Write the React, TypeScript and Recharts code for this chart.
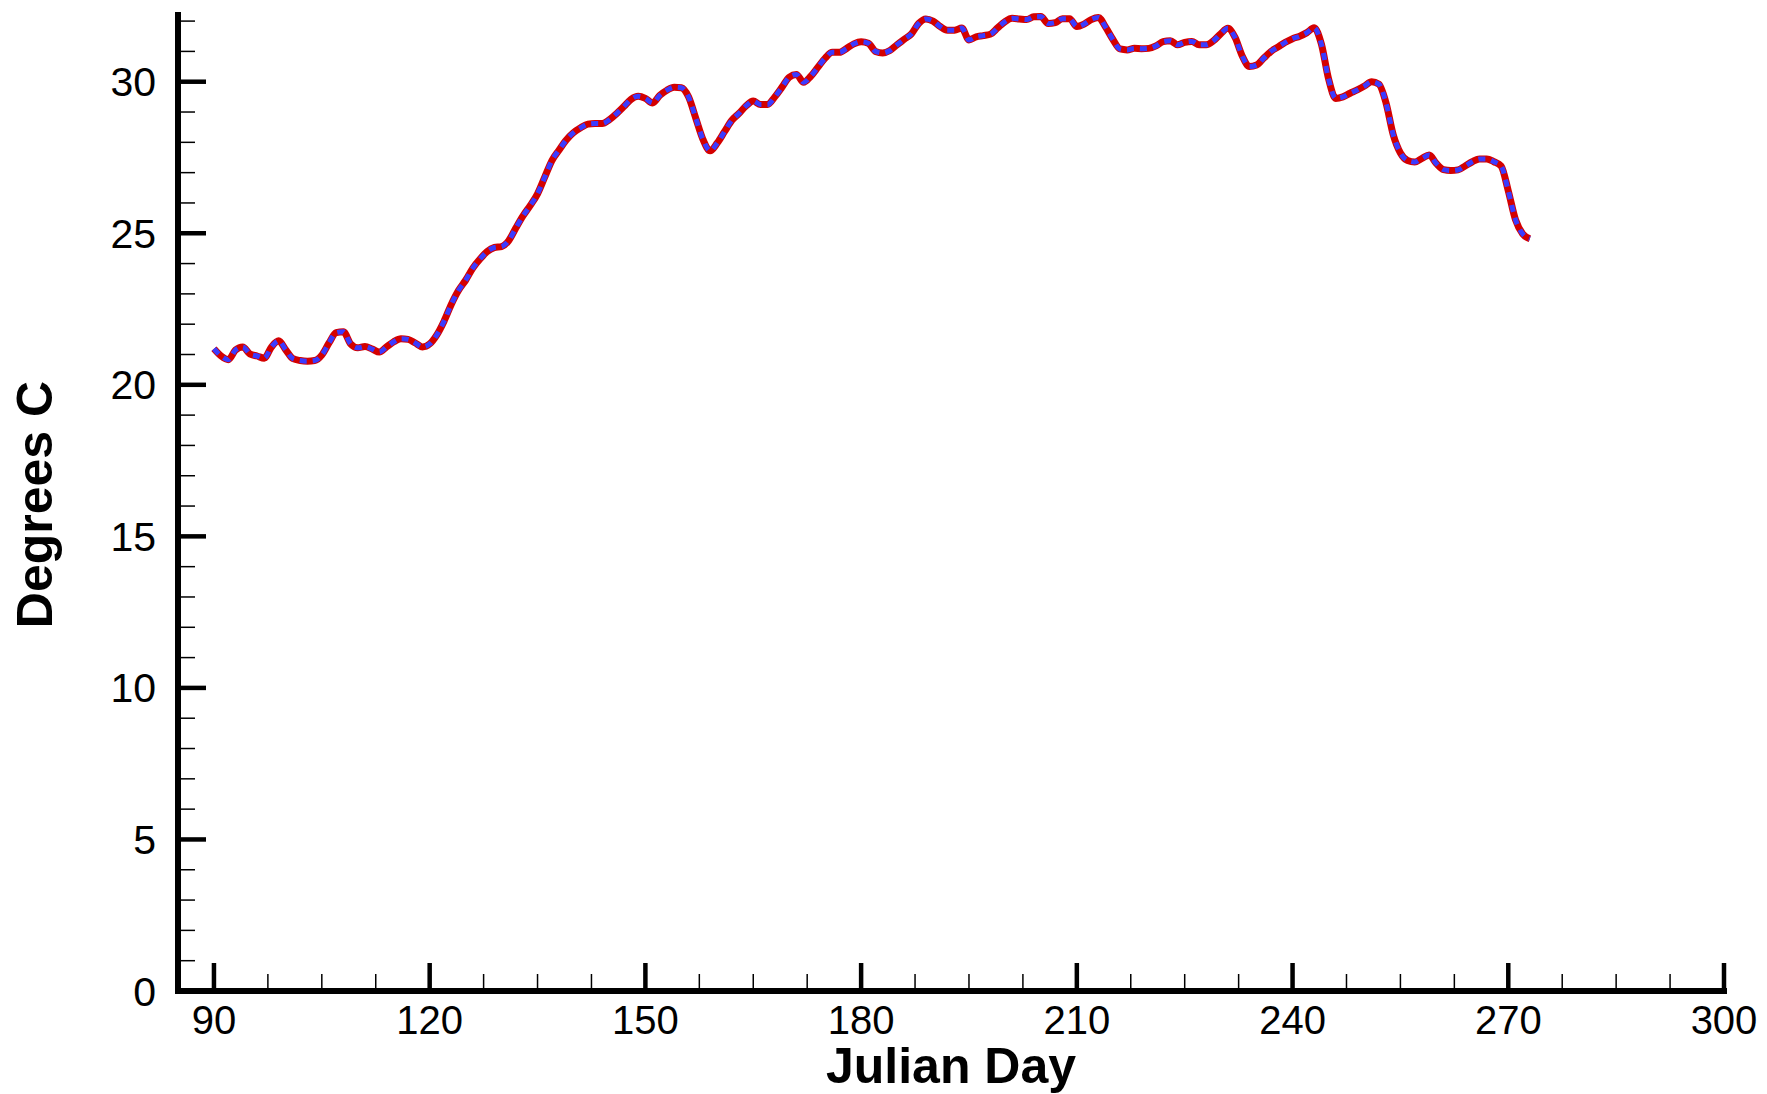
import { LineChart, Line, XAxis, YAxis, Label } from 'recharts';

// water temperature, one value per Julian day starting at day 90
const firstDay = 90;
const observedTemp = [
  21.19, 20.95, 20.83, 21.15, 21.25, 21.02, 20.95, 20.88, 21.25, 21.45,
  21.15, 20.86, 20.8, 20.78, 20.8, 20.98, 21.38, 21.72, 21.75, 21.35,
  21.22, 21.26, 21.18, 21.08, 21.25, 21.42, 21.52, 21.5, 21.38, 21.25,
  21.35, 21.65, 22.1, 22.65, 23.11, 23.45, 23.85, 24.15, 24.4, 24.53,
  24.56, 24.76, 25.18, 25.58, 25.92, 26.3, 26.85, 27.4, 27.75, 28.08,
  28.32, 28.48, 28.6, 28.62, 28.62, 28.75, 28.95, 29.18, 29.42, 29.52,
  29.45, 29.3, 29.55, 29.72, 29.82, 29.8, 29.5, 28.8, 28.1, 27.72,
  27.98, 28.35, 28.72, 28.95, 29.2, 29.36, 29.25, 29.25, 29.5, 29.82,
  30.15, 30.24, 29.98, 30.18, 30.48, 30.78, 30.97, 30.97, 31.1, 31.25,
  31.32, 31.27, 31.0, 30.95, 31.03, 31.22, 31.4, 31.58, 31.92, 32.07,
  32.0, 31.82, 31.7, 31.7, 31.77, 31.38, 31.48, 31.52, 31.57, 31.78,
  31.98, 32.09, 32.07, 32.05, 32.14, 32.15, 31.92, 31.95, 32.08, 32.08,
  31.82, 31.9, 32.05, 32.12, 31.8, 31.4, 31.08, 31.05, 31.1, 31.09,
  31.1, 31.18, 31.32, 31.35, 31.22, 31.3, 31.33, 31.22, 31.22, 31.35,
  31.58, 31.76, 31.46, 30.85, 30.5, 30.55, 30.78, 31.0, 31.15, 31.3,
  31.42, 31.5, 31.62, 31.78, 31.25, 30.1, 29.45, 29.5, 29.62, 29.73,
  29.86, 30.0, 29.92, 29.3, 28.25, 27.65, 27.4, 27.35, 27.47, 27.58,
  27.3, 27.1, 27.07, 27.09, 27.22, 27.36, 27.45, 27.45, 27.36, 27.22,
  26.4, 25.45, 24.98, 24.82,
];
// the dashed curve sits exactly on top of the solid one
const modelTemp = [...observedTemp];

const xTicks = [
  90, 97.5, 105, 112.5, 120, 127.5, 135, 142.5, 150, 157.5, 165, 172.5, 180, 187.5,
  195, 202.5, 210, 217.5, 225, 232.5, 240, 247.5, 255, 262.5, 270, 277.5, 285, 292.5, 300,
];
const yTicks = [
  0, 1, 2, 3, 4, 5, 6, 7, 8, 9, 10, 11, 12, 13, 14, 15, 16, 17, 18, 19, 20,
  21, 22, 23, 24, 25, 26, 27, 28, 29, 30, 31, 32,
];

const data = observedTemp.map((v, i) => ({
  day: firstDay + i,
  observed: v,
  model: modelTemp[i],
}));

const FONT = '"Liberation Sans", Arial, Helvetica, sans-serif';

const XTick = (props: any) => {
  const { x, y, payload } = props;
  const major = payload.value % 30 === 0;
  return (
    <g>
      <line
        x1={x}
        x2={x}
        y1={y}
        y2={y - (major ? 28 : 17)}
        stroke="#000"
        strokeWidth={major ? 4.5 : 1.5}
      />
      {major && (
        <text x={x} y={y + 43} textAnchor="middle" fontSize={40} fontFamily={FONT} fill="#000">
          {payload.value}
        </text>
      )}
    </g>
  );
};

const YTick = (props: any) => {
  const { x, y, payload } = props;
  const major = payload.value % 5 === 0;
  return (
    <g>
      <line
        x1={x}
        x2={x + (major ? 28 : 17)}
        y1={y}
        y2={y}
        stroke="#000"
        strokeWidth={major ? 4.5 : 1.5}
      />
      {major && (
        <text x={x - 22} y={y + 14.5} textAnchor="end" fontSize={41} fontFamily={FONT} fill="#000">
          {payload.value}
        </text>
      )}
    </g>
  );
};

const XTitle = (props: any) => {
  const vb = props.viewBox || { x: 178, y: 991, width: 1546 };
  return (
    <text
      x={vb.x + vb.width / 2}
      y={vb.y + 92}
      textAnchor="middle"
      fontSize={50}
      fontWeight="bold"
      fontFamily={FONT}
      fill="#000"
    >
      Julian Day
    </text>
  );
};

const YTitle = (props: any) => {
  const vb = props.viewBox || { x: 0, y: 12, height: 979 };
  const cx = vb.x + 52;
  const cy = vb.y + vb.height / 2 + 3;
  return (
    <text
      x={cx}
      y={cy}
      transform={`rotate(-90, ${cx}, ${cy})`}
      textAnchor="middle"
      fontSize={50}
      fontWeight="bold"
      fontFamily={FONT}
      fill="#000"
    >
      Degrees C
    </text>
  );
};

export default function App() {
  return (
    <div style={{ width: 1767, height: 1094, background: '#fff' }}>
      <style>{'body{margin:0;overflow:hidden;background:#fff}'}</style>
      <LineChart
        width={1767}
        height={1094}
        data={data}
        margin={{ top: 12, right: 43, bottom: 43, left: 0 }}
      >
        <XAxis
          dataKey="day"
          type="number"
          domain={[85, 300]}
          ticks={xTicks}
          interval={0}
          height={60}
          tickSize={0}
          tickMargin={0}
          tickLine={false}
          axisLine={{ stroke: '#000', strokeWidth: 6, strokeLinecap: 'square' }}
          tick={(p: any) => <XTick {...p} />}
        >
          <Label content={(p: any) => <XTitle {...p} />} />
        </XAxis>
        <YAxis
          type="number"
          domain={[0, 32.3]}
          ticks={yTicks}
          interval={0}
          width={178}
          tickSize={0}
          tickMargin={0}
          tickLine={false}
          axisLine={{ stroke: '#000', strokeWidth: 6 }}
          tick={(p: any) => <YTick {...p} />}
        >
          <Label content={(p: any) => <YTitle {...p} />} />
        </YAxis>
        <Line
          type="monotone"
          dataKey="observed"
          stroke="#D40000"
          strokeWidth={7}
          dot={false}
          activeDot={false}
          isAnimationActive={false}
        />
        <Line
          type="monotone"
          dataKey="model"
          stroke="#3B3BFF"
          strokeWidth={5}
          strokeDasharray="7 6"
          dot={false}
          activeDot={false}
          isAnimationActive={false}
        />
      </LineChart>
    </div>
  );
}
